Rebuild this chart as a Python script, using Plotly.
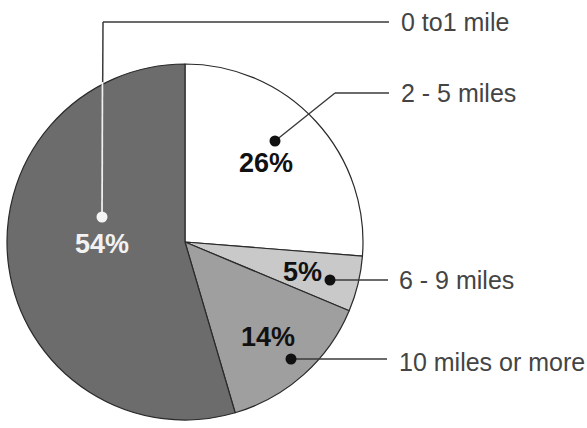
import plotly.graph_objects as go

W, H = 587, 428

categories = ["2 - 5 miles", "6 - 9 miles", "10 miles or more", "0 to1 mile"]
values = [26, 5, 14, 54]
pct_labels = ["26%", "5%", "14%", "54%"]
colors = ["#ffffff", "#c9c9c9", "#9f9f9f", "#6c6c6c"]

def px(x):
    return x / W

def py(y):
    return 1 - y / H

cx, cy, r = 185, 242, 178

fig = go.Figure(go.Pie(
    labels=categories, values=values, sort=False, direction="clockwise",
    rotation=0, textinfo="none", hoverinfo="label+percent",
    marker=dict(colors=colors, line=dict(color="#2a2a2a", width=1.2)),
    domain=dict(x=[px(cx - r), px(cx + r)], y=[py(cy + r), py(cy - r)]),
    showlegend=False,
))

pct_pos = [(266, 163), (302, 272), (268, 337), (102, 244)]
pct_col = ["#111111", "#111111", "#111111", "#f2f2f2"]

callouts = {
    "0 to1 mile": dict(dot=(102, 217), path=[(102, 217), (103, 22), (389, 22)], txt=(399, 22), dotcol="#f5f5f5"),
    "2 - 5 miles": dict(dot=(275, 141), path=[(275, 141), (335, 93), (389, 93)], txt=(399, 93), dotcol="#111111"),
    "6 - 9 miles": dict(dot=(330, 280), path=[(330, 280), (388, 280)], txt=(397, 280), dotcol="#111111"),
    "10 miles or more": dict(dot=(291, 359), path=[(291, 359), (387, 359)], txt=(397, 362), dotcol="#111111"),
}

shapes = []
annotations = []
line_col = "#3a3a3a"
for name, c in callouts.items():
    pts = c["path"]
    for (x0, y0), (x1, y1) in zip(pts[:-1], pts[1:]):
        shapes.append(dict(type="line", xref="paper", yref="paper",
                           x0=px(x0), y0=py(y0), x1=px(x1), y1=py(y1),
                           line=dict(color=line_col, width=1.5)))
    annotations.append(dict(text=name, x=px(c["txt"][0]), y=py(c["txt"][1]),
                            xref="paper", yref="paper", xanchor="left", yanchor="middle",
                            showarrow=False,
                            font=dict(family="Liberation Sans, Arial", size=25, color="#444444")))

shapes.append(dict(type="line", xref="paper", yref="paper",
                   x0=px(102.5), y0=py(82), x1=px(102), y1=py(217),
                   line=dict(color="#f0f0f0", width=1.8)))

for name, c in callouts.items():
    dx, dy = c["dot"]
    rr = 5.5
    shapes.append(dict(type="circle", xref="paper", yref="paper",
                       x0=px(dx - rr), x1=px(dx + rr), y0=py(dy + rr), y1=py(dy - rr),
                       fillcolor=c["dotcol"], line=dict(color=c["dotcol"], width=0)))

for t, (x, y), col in zip(pct_labels, pct_pos, pct_col):
    annotations.append(dict(text="<b>" + t + "</b>", x=px(x), y=py(y), xref="paper", yref="paper",
                            xanchor="center", yanchor="middle", showarrow=False,
                            font=dict(family="Liberation Sans, Arial", size=27, color=col)))

fig.update_layout(width=W, height=H, margin=dict(l=0, r=0, t=0, b=0),
                  paper_bgcolor="white", plot_bgcolor="white",
                  shapes=shapes, annotations=annotations)

fig.write_html("out.html", config={"displayModeBar": False},
               post_script="document.body.style.margin='0';document.body.style.overflow='hidden';")
